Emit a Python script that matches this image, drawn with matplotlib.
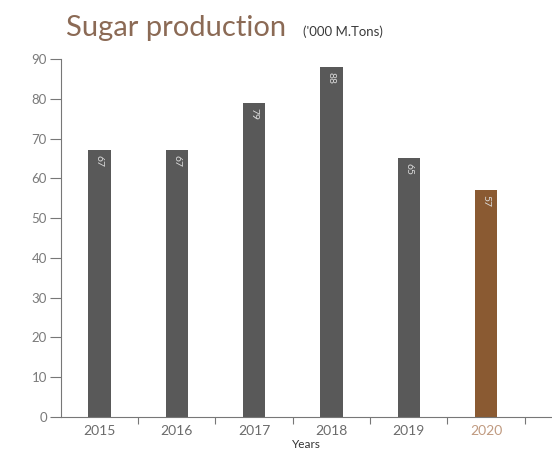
import numpy as np
import matplotlib.pyplot as plt

years = ['2015', '2016', '2017', '2018', '2019', '2020']
production = [67, 67, 79, 88, 65, 57]
bar_colors = ['#595959'] * 5 + ['#8a5a32']
label_colors = ['#6b6b6b'] * 5 + ['#c09a80']

plt.rcParams['font.family'] = ['Lato', 'DejaVu Sans']

fig = plt.figure(figsize=(5.52, 4.61), dpi=100)
ax = fig.add_axes([0.11, 0.0955, 0.891, 0.7765])

x = np.arange(len(years))
bars = ax.bar(x, production, width=0.29, color=bar_colors, zorder=2)

# value labels inside the top of each bar
for rect, val in zip(bars, production):
    ax.text(rect.get_x() + rect.get_width() / 2, val - 1.2, str(val),
            rotation=-90, ha='center', va='top', fontsize=7.5,
            color='#dcdcdc', zorder=3)

ax.set_xlim(-0.5, 5.86)
ax.set_ylim(0, 90)
ax.set_yticks(range(0, 91, 10))
ax.set_xticks(x)
ax.set_xticklabels(years)
ax.set_xticks(np.arange(0.5, 5.6, 1), minor=True)

for lbl, c in zip(ax.get_xticklabels(), label_colors):
    lbl.set_color(c)

ax.tick_params(axis='x', which='major', length=0, pad=6, labelsize=10)
ax.tick_params(axis='x', which='minor', length=5, color='#777777', width=0.8)
ax.tick_params(axis='y', length=8, width=0.8, color='#777777',
               labelsize=9.5, labelcolor='#7a7a7a', pad=2)

for side in ['top', 'right']:
    ax.spines[side].set_visible(False)
for side in ['left', 'bottom']:
    ax.spines[side].set_color('#777777')
    ax.spines[side].set_linewidth(0.8)

ax.set_xlabel('Years', fontsize=8.5, color='#333333', labelpad=1)

fig.text(0.12, 0.922, 'Sugar production', fontsize=21, color='#8b6a55',
         ha='left', va='baseline')
fig.text(0.549, 0.922, "('000 M.Tons)", fontsize=9.5, color='#3a3a3a',
         ha='left', va='baseline')

fig.savefig('out.png', dpi=100)
